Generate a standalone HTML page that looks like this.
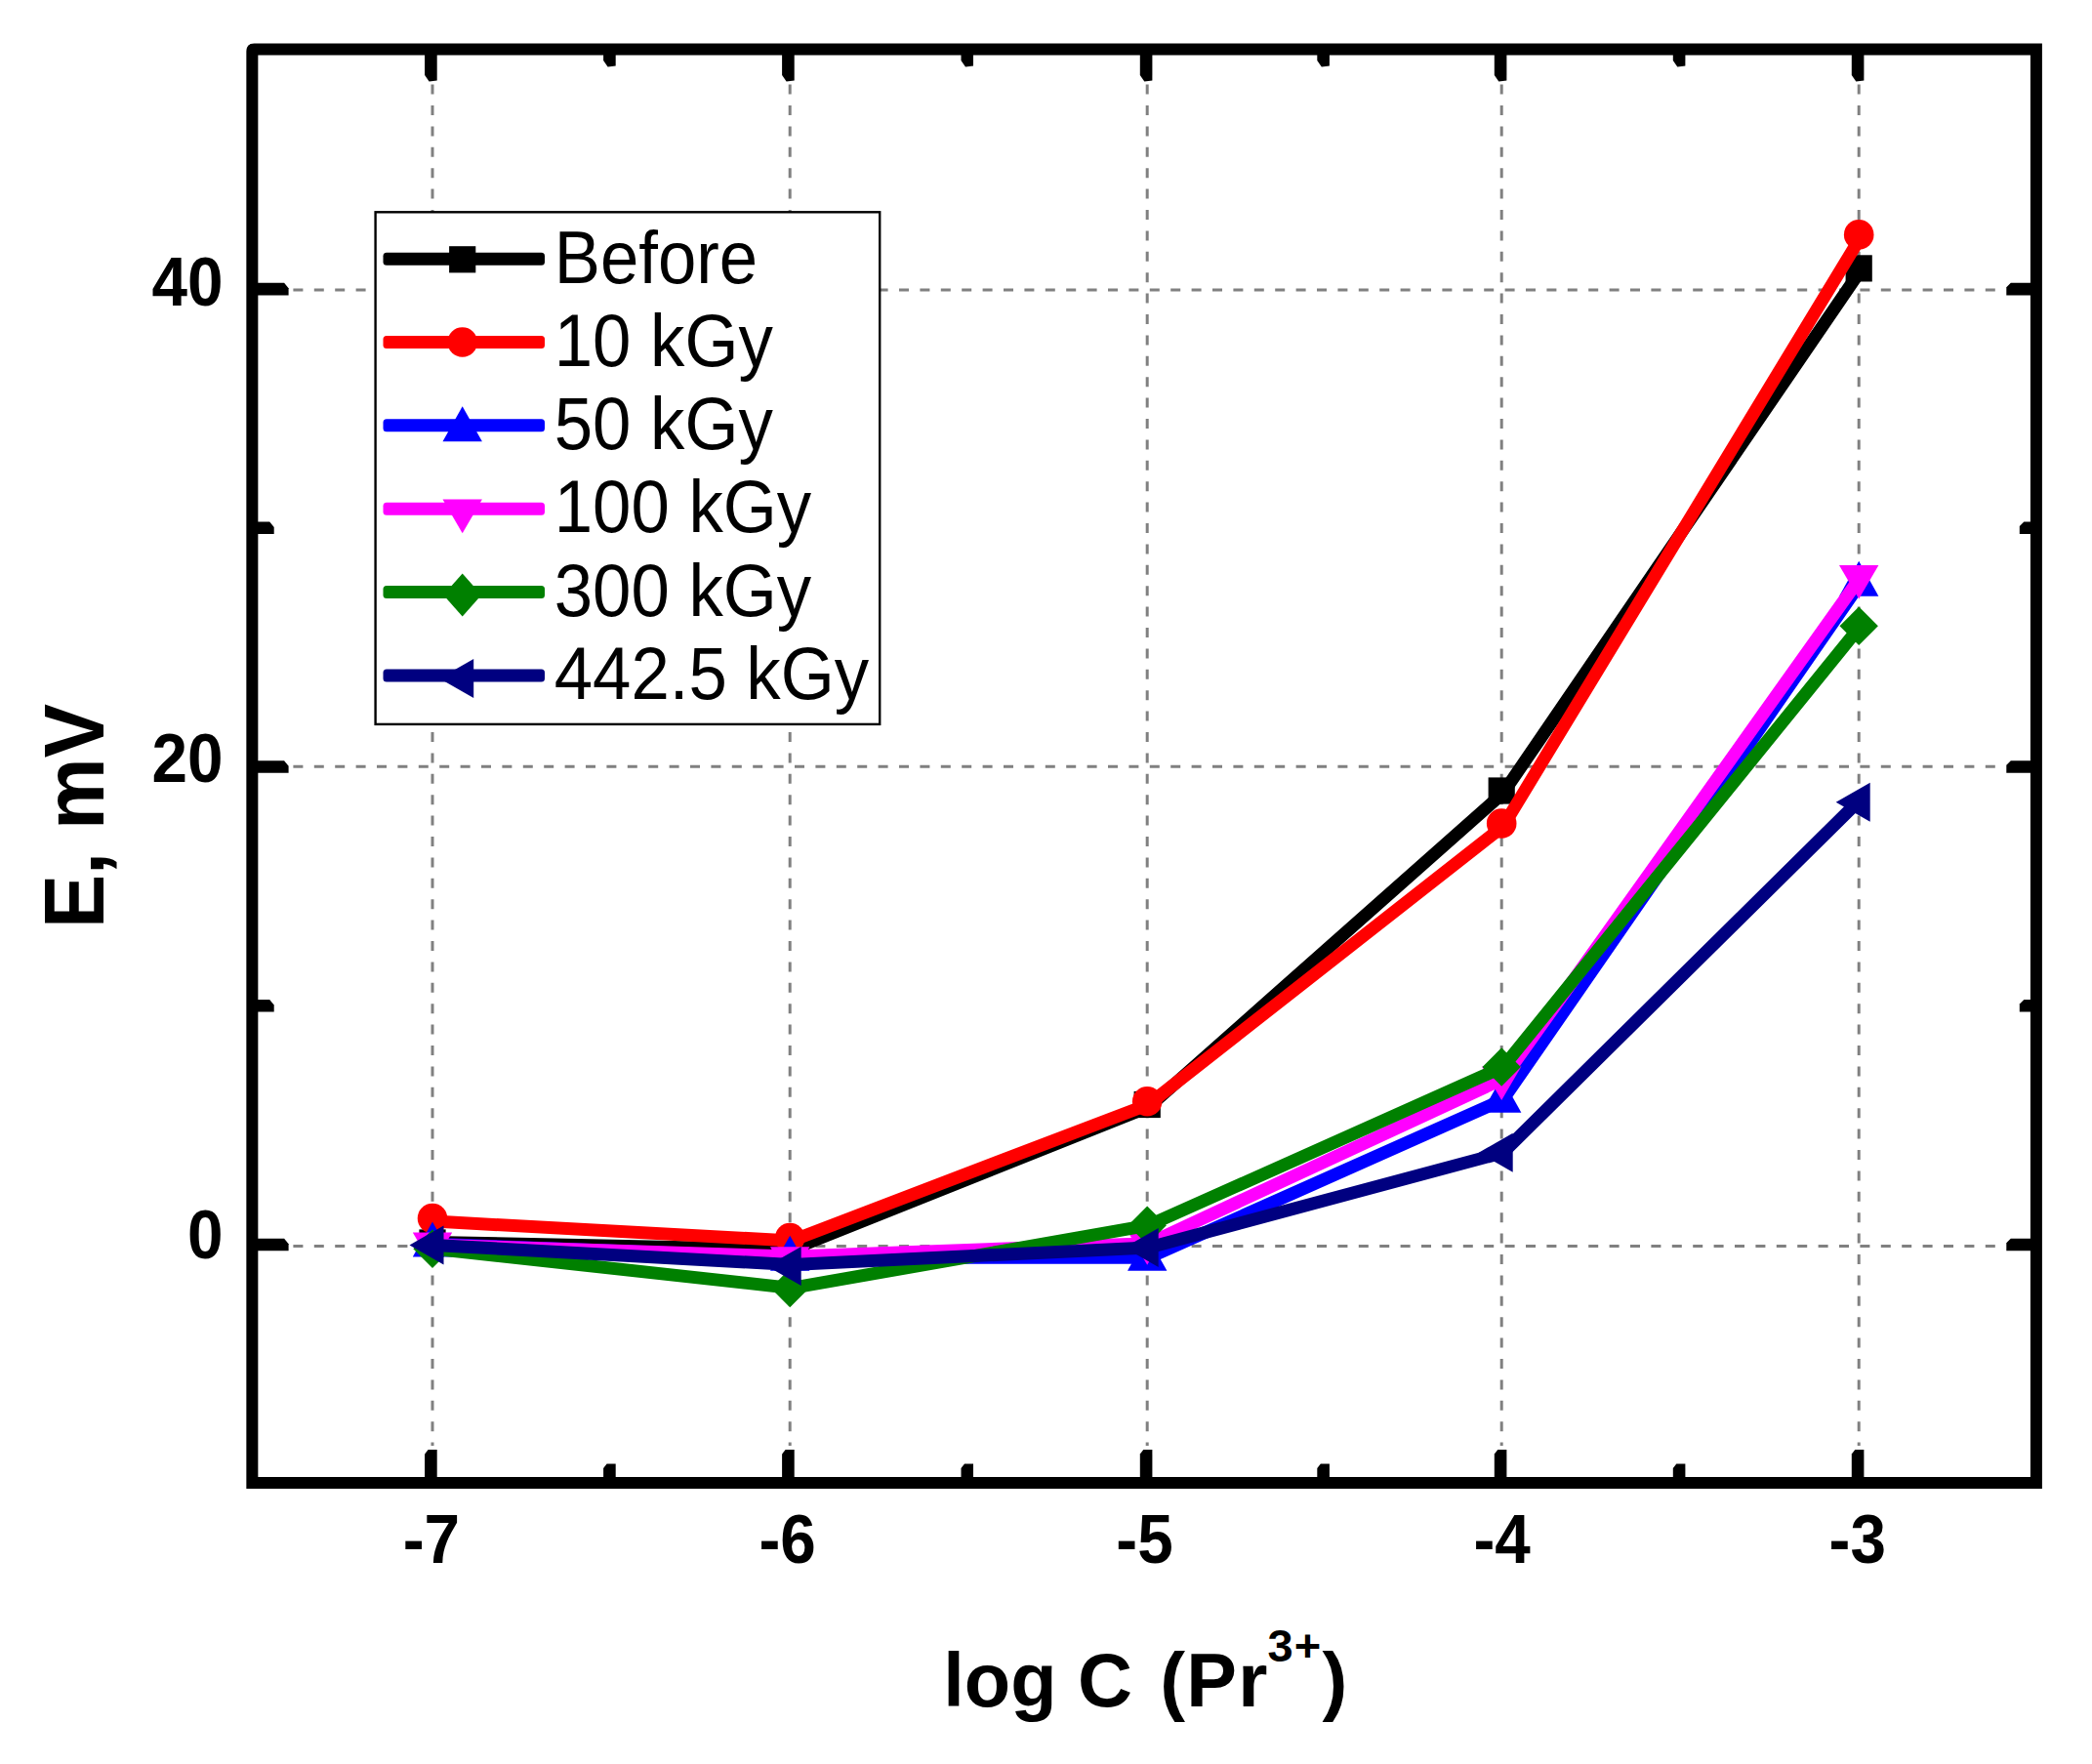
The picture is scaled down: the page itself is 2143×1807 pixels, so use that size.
<!DOCTYPE html>
<html><head><meta charset="utf-8"><title>E vs log C</title>
<style>html,body{margin:0;padding:0;background:#fff}svg{display:block}</style></head>
<body>
<svg width="2143" height="1807" viewBox="0 0 2143 1807">
<rect width="2143" height="1807" fill="#fff"/>
<g stroke="#808080" stroke-width="3" stroke-dasharray="10 11.4" fill="none">
<line x1="443.0" y1="86.6" x2="443.0" y2="1481.1"/>
<line x1="809.2" y1="86.6" x2="809.2" y2="1481.1"/>
<line x1="1175.2" y1="86.6" x2="1175.2" y2="1481.1"/>
<line x1="1538.2" y1="86.6" x2="1538.2" y2="1481.1"/>
<line x1="1904.2" y1="86.6" x2="1904.2" y2="1481.1"/>
<line x1="300.4" y1="1276.5" x2="2051.9" y2="1276.5"/>
<line x1="300.4" y1="785.3" x2="2051.9" y2="785.3"/>
<line x1="300.4" y1="297.0" x2="2051.9" y2="297.0"/>
</g>
<polyline points="444.5,1272.5 810.7,1280.0 1176.7,1134.0 1539.7,812.5 1905.7,277.4" fill="none" stroke="#000000" stroke-width="13.0" stroke-linejoin="miter"/>
<rect x="429.4" y="1259.4" width="27.2" height="27.2" fill="#000000"/>
<rect x="795.6" y="1263.9" width="27.2" height="27.2" fill="#000000"/>
<rect x="1161.6" y="1117.9" width="27.2" height="27.2" fill="#000000"/>
<rect x="1524.6" y="796.4" width="27.2" height="27.2" fill="#000000"/>
<rect x="1890.6" y="261.3" width="27.2" height="27.2" fill="#000000"/>
<polyline points="444.5,1251.1 810.7,1271.0 1176.7,1131.2 1539.7,846.5 1905.7,243.4" fill="none" stroke="#ff0000" stroke-width="13.0" stroke-linejoin="miter"/>
<circle cx="443.0" cy="1248.1" r="15.3" fill="#ff0000"/>
<circle cx="809.2" cy="1268.0" r="15.3" fill="#ff0000"/>
<circle cx="1175.2" cy="1128.2" r="15.3" fill="#ff0000"/>
<circle cx="1538.2" cy="843.5" r="15.3" fill="#ff0000"/>
<circle cx="1904.2" cy="240.4" r="15.3" fill="#ff0000"/>
<polyline points="444.5,1274.2 810.7,1288.3 1176.7,1288.3 1539.7,1126.4 1905.7,597.4" fill="none" stroke="#0000ff" stroke-width="13.0" stroke-linejoin="miter"/>
<polygon points="443.0,1251.6 422.8,1287.6 463.2,1287.6" fill="#0000ff"/>
<polygon points="809.2,1265.7 789.0,1301.7 829.4,1301.7" fill="#0000ff"/>
<polygon points="1175.2,1265.7 1155.0,1301.7 1195.4,1301.7" fill="#0000ff"/>
<polygon points="1538.2,1103.8 1518.0,1139.8 1558.4,1139.8" fill="#0000ff"/>
<polygon points="1904.2,574.8 1884.0,610.8 1924.4,610.8" fill="#0000ff"/>
<polyline points="444.5,1275.2 810.7,1287.0 1176.7,1273.8 1539.7,1105.1 1905.7,591.6" fill="none" stroke="#ff00ff" stroke-width="13.0" stroke-linejoin="miter"/>
<polygon points="443.0,1297.2 422.8,1262.5 463.2,1262.5" fill="#ff00ff"/>
<polygon points="809.2,1312.0 789.0,1277.3 829.4,1277.3" fill="#ff00ff"/>
<polygon points="1175.2,1295.8 1155.0,1261.1 1195.4,1261.1" fill="#ff00ff"/>
<polygon points="1538.2,1127.1 1518.0,1092.4 1558.4,1092.4" fill="#ff00ff"/>
<polygon points="1904.2,613.6 1884.0,578.9 1924.4,578.9" fill="#ff00ff"/>
<polyline points="444.5,1279.2 810.7,1319.4 1176.7,1255.2 1539.7,1093.0 1905.7,641.3" fill="none" stroke="#008000" stroke-width="13.0" stroke-linejoin="miter"/>
<polygon points="443.0,1259.4 462.7,1279.2 443.0,1299.0 423.3,1279.2" fill="#008000"/>
<polygon points="809.2,1299.6 828.9,1319.4 809.2,1339.2 789.5,1319.4" fill="#008000"/>
<polygon points="1175.2,1235.4 1194.9,1255.2 1175.2,1275.0 1155.5,1255.2" fill="#008000"/>
<polygon points="1538.2,1073.2 1557.9,1093.0 1538.2,1112.8 1518.5,1093.0" fill="#008000"/>
<polygon points="1904.2,621.5 1923.9,641.3 1904.2,661.1 1884.5,641.3" fill="#008000"/>
<polyline points="444.5,1275.4 810.7,1295.5 1176.7,1278.0 1539.7,1180.7 1905.7,818.8" fill="none" stroke="#000080" stroke-width="13.0" stroke-linejoin="miter"/>
<polygon points="419.5,1275.4 454.5,1255.4 454.5,1295.4" fill="#000080"/>
<polygon points="785.7,1297.0 820.7,1277.0 820.7,1317.0" fill="#000080"/>
<polygon points="1151.7,1278.0 1186.7,1258.0 1186.7,1298.0" fill="#000080"/>
<polygon points="1514.7,1180.7 1549.7,1160.7 1549.7,1200.7" fill="#000080"/>
<polygon points="1880.7,821.8 1915.7,801.8 1915.7,841.8" fill="#000080"/>
<path fill-rule="evenodd" fill="#000" d="M260.35,44.60 H2091.90 V1525.10 H252.35 V52.60 Q252.35,44.60 260.35,44.60 Z M264.35,56.60 V1513.10 H2079.90 V56.60 Z"/>
<g fill="#000">
<polygon points="435.1,1519.1 435.1,1489.5 438.6,1485.0 447.7,1485.0 447.7,1519.1"/>
<polygon points="435.1,50.6 435.1,77.1 439.6,83.6 447.7,82.6 447.7,50.6"/>
<polygon points="801.1,1519.1 801.1,1489.5 804.6,1485.0 813.7,1485.0 813.7,1519.1"/>
<polygon points="801.1,50.6 801.1,77.1 805.6,83.6 813.7,82.6 813.7,50.6"/>
<polygon points="1167.8,1519.1 1167.8,1489.5 1171.3,1485.0 1180.4,1485.0 1180.4,1519.1"/>
<polygon points="1167.8,50.6 1167.8,77.1 1172.3,83.6 1180.4,82.6 1180.4,50.6"/>
<polygon points="1530.8,1519.1 1530.8,1489.5 1534.3,1485.0 1543.4,1485.0 1543.4,1519.1"/>
<polygon points="1530.8,50.6 1530.8,77.1 1535.3,83.6 1543.4,82.6 1543.4,50.6"/>
<polygon points="1896.8,1519.1 1896.8,1489.5 1900.3,1485.0 1909.4,1485.0 1909.4,1519.1"/>
<polygon points="1896.8,50.6 1896.8,77.1 1901.3,83.6 1909.4,82.6 1909.4,50.6"/>
<polygon points="618.1,1519.1 618.1,1503.9 621.6,1499.4 630.7,1499.4 630.7,1519.1"/>
<polygon points="618.1,50.6 618.1,62.1 622.6,68.6 630.7,67.6 630.7,50.6"/>
<polygon points="984.5,1519.1 984.5,1503.9 988.0,1499.4 997.0,1499.4 997.0,1519.1"/>
<polygon points="984.5,50.6 984.5,62.1 989.0,68.6 997.0,67.6 997.0,50.6"/>
<polygon points="1349.3,1519.1 1349.3,1503.9 1352.8,1499.4 1361.9,1499.4 1361.9,1519.1"/>
<polygon points="1349.3,50.6 1349.3,62.1 1353.8,68.6 1361.9,67.6 1361.9,50.6"/>
<polygon points="1713.8,1519.1 1713.8,1503.9 1717.3,1499.4 1726.4,1499.4 1726.4,1519.1"/>
<polygon points="1713.8,50.6 1713.8,62.1 1718.3,68.6 1726.4,67.6 1726.4,50.6"/>
<polygon points="258.4,1268.7 291.1,1268.7 295.6,1274.2 295.6,1281.3 258.4,1281.3"/>
<polygon points="2085.9,1268.7 2059.8,1268.7 2055.3,1273.2 2055.3,1281.3 2085.9,1281.3"/>
<polygon points="258.4,779.2 291.1,779.2 295.6,784.8 295.6,791.8 258.4,791.8"/>
<polygon points="2085.9,779.2 2059.8,779.2 2055.3,783.8 2055.3,791.8 2085.9,791.8"/>
<polygon points="258.4,289.8 291.1,289.8 295.6,295.3 295.6,302.4 258.4,302.4"/>
<polygon points="2085.9,289.8 2059.8,289.8 2055.3,294.3 2055.3,302.4 2085.9,302.4"/>
<polygon points="258.4,1024.0 276.2,1024.0 280.7,1029.5 280.7,1036.6 258.4,1036.6"/>
<polygon points="2085.9,1024.0 2073.3,1024.0 2068.8,1028.5 2068.8,1036.6 2085.9,1036.6"/>
<polygon points="258.4,534.5 276.2,534.5 280.7,540.0 280.7,547.1 258.4,547.1"/>
<polygon points="2085.9,534.5 2073.3,534.5 2068.8,539.0 2068.8,547.1 2085.9,547.1"/>
</g>
<text transform="translate(441.90,1600.90) scale(0.925,1)" font-family="'Liberation Sans', Arial, Helvetica, sans-serif" font-weight="bold" font-size="71.0" text-anchor="middle" fill="#000">-7</text>
<text transform="translate(806.60,1600.90) scale(0.925,1)" font-family="'Liberation Sans', Arial, Helvetica, sans-serif" font-weight="bold" font-size="71.0" text-anchor="middle" fill="#000">-6</text>
<text transform="translate(1172.50,1600.90) scale(0.925,1)" font-family="'Liberation Sans', Arial, Helvetica, sans-serif" font-weight="bold" font-size="71.0" text-anchor="middle" fill="#000">-5</text>
<text transform="translate(1538.60,1600.90) scale(0.925,1)" font-family="'Liberation Sans', Arial, Helvetica, sans-serif" font-weight="bold" font-size="71.0" text-anchor="middle" fill="#000">-4</text>
<text transform="translate(1902.80,1600.90) scale(0.925,1)" font-family="'Liberation Sans', Arial, Helvetica, sans-serif" font-weight="bold" font-size="71.0" text-anchor="middle" fill="#000">-3</text>
<text transform="translate(228.60,1288.70) scale(0.925,1)" font-family="'Liberation Sans', Arial, Helvetica, sans-serif" font-weight="bold" font-size="71.0" text-anchor="end" fill="#000">0</text>
<text transform="translate(228.60,801.10) scale(0.925,1)" font-family="'Liberation Sans', Arial, Helvetica, sans-serif" font-weight="bold" font-size="71.0" text-anchor="end" fill="#000">20</text>
<text transform="translate(228.60,313.20) scale(0.925,1)" font-family="'Liberation Sans', Arial, Helvetica, sans-serif" font-weight="bold" font-size="71.0" text-anchor="end" fill="#000">40</text>
<text font-family="'Liberation Sans', Arial, Helvetica, sans-serif" font-weight="bold" font-size="77.5" fill="#000"><tspan x="966.3" y="1747.8">log C </tspan><tspan x="1188.2" y="1747.8" letter-spacing="1.3">(Pr</tspan><tspan x="1298.6" y="1702.0" font-size="47">3</tspan><tspan x="1325.8" y="1702.0" font-size="47">+</tspan><tspan x="1354.5" y="1747.8">)</tspan></text>
<text transform="translate(106.00,951.10) rotate(-90) scale(0.945,1)" font-family="'Liberation Sans', Arial, Helvetica, sans-serif" font-weight="bold" font-size="87.6" text-anchor="start" fill="#000">E, mV</text>
<rect x="384.6" y="217.3" width="516.6" height="524.6" fill="#fff" stroke="#000" stroke-width="2.4"/>
<rect x="392.5" y="258.8" width="165.5" height="13.0" rx="3.5" fill="#000000"/>
<rect x="460.1" y="252.2" width="27.2" height="27.2" fill="#000000"/>
<text transform="translate(567.80,289.50) scale(0.922,1)" font-family="'Liberation Sans', Arial, Helvetica, sans-serif" font-weight="normal" font-size="76.7" text-anchor="start" fill="#000">Before</text>
<rect x="392.5" y="344.0" width="165.5" height="13.0" rx="3.5" fill="#ff0000"/>
<circle cx="473.7" cy="350.5" r="15.3" fill="#ff0000"/>
<text transform="translate(567.80,374.70) scale(0.922,1)" font-family="'Liberation Sans', Arial, Helvetica, sans-serif" font-weight="normal" font-size="76.7" text-anchor="start" fill="#000">10 kGy</text>
<rect x="392.5" y="429.3" width="165.5" height="13.0" rx="3.5" fill="#0000ff"/>
<polygon points="473.7,416.2 453.5,452.2 493.9,452.2" fill="#0000ff"/>
<text transform="translate(567.80,460.00) scale(0.922,1)" font-family="'Liberation Sans', Arial, Helvetica, sans-serif" font-weight="normal" font-size="76.7" text-anchor="start" fill="#000">50 kGy</text>
<rect x="392.5" y="514.7" width="165.5" height="13.0" rx="3.5" fill="#ff00ff"/>
<polygon points="473.7,546.2 453.5,511.5 493.9,511.5" fill="#ff00ff"/>
<text transform="translate(567.80,545.40) scale(0.922,1)" font-family="'Liberation Sans', Arial, Helvetica, sans-serif" font-weight="normal" font-size="76.7" text-anchor="start" fill="#000">100 kGy</text>
<rect x="392.5" y="599.9" width="165.5" height="13.0" rx="3.5" fill="#008000"/>
<polygon points="473.7,587.6 493.2,609.5 473.7,631.4 454.2,609.5" fill="#008000"/>
<text transform="translate(567.80,630.60) scale(0.922,1)" font-family="'Liberation Sans', Arial, Helvetica, sans-serif" font-weight="normal" font-size="76.7" text-anchor="start" fill="#000">300 kGy</text>
<rect x="392.5" y="685.5" width="165.5" height="13.0" rx="3.5" fill="#000080"/>
<polygon points="450.2,695.0 485.2,675.0 485.2,715.0" fill="#000080"/>
<text transform="translate(567.80,716.20) scale(0.922,1)" font-family="'Liberation Sans', Arial, Helvetica, sans-serif" font-weight="normal" font-size="76.7" text-anchor="start" fill="#000">442.5 kGy</text>
</svg>
</body></html>
